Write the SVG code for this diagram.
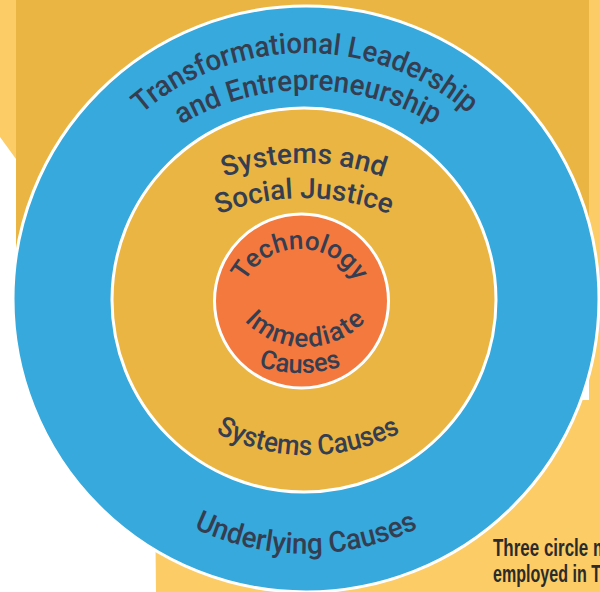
<svg xmlns="http://www.w3.org/2000/svg" width="600" height="592" viewBox="0 0 600 592">
  <style>
    .ring { stroke: #ffffff; stroke-width: 3; }
    .lbl { font-family: Roboto, "Noto Sans", "DejaVu Sans", sans-serif; font-weight: 500; fill: #353e51; }
    .outer { font-size: 29px; }
    .mid { font-size: 28px; }
    .inner { font-size: 26px; }
    .cap { font-family: "Liberation Sans Narrow", "Liberation Sans", sans-serif; font-weight: bold; font-size: 23px; fill: #2b2b2b; }
  </style>
  <defs>
    <!-- baselines for the curved labels -->
    <path id="arcLead" d="M58.8,259.6 A250,250 0 0 1 551.2,259.6"/>
    <path id="arcEntre" d="M61.8,296.6 A250,250 0 0 1 554.2,296.6"/>
    <path id="arcUnder" d="M50,339.1 A260,260 0 0 0 562,339.1"/>
    <path id="arcSysAnd" d="M77.5,353.1 A230,230 0 0 1 530.5,353.1"/>
    <path id="arcSocial" d="M72.6,392.2 A235,235 0 0 1 535.4,392.2"/>
    <path id="arcSysCauses" d="M111,289.7 A200,200 0 0 0 505,289.7"/>
    <path id="arcTech" d="M237.96,322.94 A63,63 0 1 1 362.04,322.94"/>
    <path id="arcImm" d="M223.26,278.41 A83,83 0 0 0 386.74,278.41"/>
    <path id="arcCauses" d="M182.2,305 A136,136 0 0 0 417.8,305"/>
  </defs>

  <!-- background panels -->
  <g id="background">
    <rect width="600" height="592" fill="#ffffff"/>
    <polygon points="0,0 16,0 16,159 0,137" fill="#fccc66"/>
    <polygon points="589,0 600,0 600,592 156,592 154,400 589,400" fill="#fccc66"/>
    <rect x="16" y="0" width="573" height="300" fill="#eab542"/>
  </g>

  <g id="outer-ring">
    <circle class="ring" cx="306" cy="299" r="293" fill="#37a9dc"/>
    <text class="lbl outer"><textPath href="#arcLead" startOffset="50%" text-anchor="middle" textLength="356" lengthAdjust="spacingAndGlyphs">Transformational Leadership</textPath></text>
    <text class="lbl outer"><textPath href="#arcEntre" startOffset="50%" text-anchor="middle" textLength="266" lengthAdjust="spacingAndGlyphs">and Entrepreneurship</textPath></text>
    <text class="lbl outer"><textPath href="#arcUnder" startOffset="50%" text-anchor="middle" textLength="232" lengthAdjust="spacingAndGlyphs">Underlying Causes</textPath></text>
  </g>

  <g id="middle-ring">
    <circle class="ring" cx="304" cy="300" r="192" fill="#eab542"/>
    <text class="lbl mid"><textPath href="#arcSysAnd" startOffset="50%" text-anchor="middle" textLength="162" lengthAdjust="spacingAndGlyphs">Systems and</textPath></text>
    <text class="lbl mid"><textPath href="#arcSocial" startOffset="50%" text-anchor="middle" textLength="175" lengthAdjust="spacingAndGlyphs">Social Justice</textPath></text>
    <text class="lbl mid"><textPath href="#arcSysCauses" startOffset="50%" text-anchor="middle" textLength="192" lengthAdjust="spacingAndGlyphs">Systems Causes</textPath></text>
  </g>

  <g id="inner-circle">
    <circle class="ring" cx="301.5" cy="301" r="87" fill="#f4793f"/>
    <text class="lbl inner"><textPath href="#arcTech" startOffset="50%" text-anchor="middle" textLength="135" lengthAdjust="spacingAndGlyphs">Technology</textPath></text>
    <text class="lbl inner"><textPath href="#arcImm" startOffset="50%" text-anchor="middle" textLength="136">Immediate</textPath></text>
    <text class="lbl inner"><textPath href="#arcCauses" startOffset="50%" text-anchor="middle" textLength="84" lengthAdjust="spacingAndGlyphs">Causes</textPath></text>
  </g>

  <g id="caption">
    <text class="cap" x="493" y="556" textLength="115" lengthAdjust="spacingAndGlyphs">Three circle m</text>
    <text class="cap" x="493" y="582" textLength="108" lengthAdjust="spacingAndGlyphs">employed in T</text>
  </g>
</svg>
